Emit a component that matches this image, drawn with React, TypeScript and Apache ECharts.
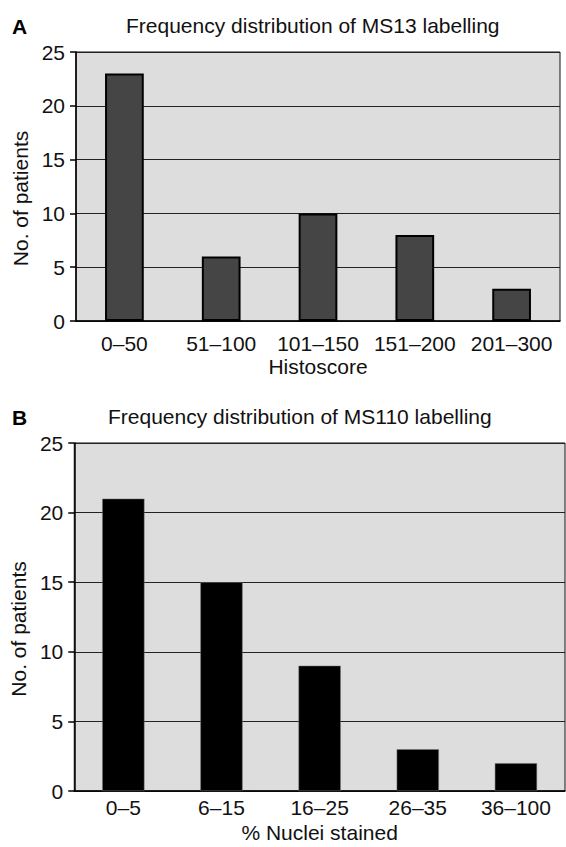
import React, { useEffect, useRef } from "react";
import * as echarts from "echarts";

const categoriesA = ["0–50", "51–100", "101–150", "151–200", "201–300"];
const valuesA = [23, 6, 10, 8, 3];
const categoriesB = ["0–5", "6–15", "16–25", "26–35", "36–100"];
const valuesB = [21, 15, 9, 3, 2];
const yTicks = { min: 0, max: 25, interval: 5 };

const titleA = "Frequency distribution of MS13 labelling";
const titleB = "Frequency distribution of MS110 labelling";
const xNameA = "Histoscore";
const xNameB = "% Nuclei stained";
const yName = "No. of patients";

const FONT = "'Liberation Sans', Arial, Helvetica, sans-serif";
const TXT = "#111";
const FS = 21;

export default function App() {
  const ref = useRef<HTMLDivElement>(null);
  useEffect(() => {
    document.body.style.margin = "0";
    const chart = echarts.init(ref.current!, null, { renderer: "svg" });
    const yAxisBase = (gridIndex: number, gap: number) => ({
      type: "value",
      gridIndex,
      min: yTicks.min,
      max: yTicks.max,
      interval: yTicks.interval,
      name: yName,
      nameLocation: "middle",
      nameGap: gap,
      nameTextStyle: { fontSize: FS, color: TXT, fontFamily: FONT, padding: [0, 24, 0, 0] },
      axisLine: { show: true, lineStyle: { color: "#000", width: 1.5 } },
      axisTick: { show: true, length: 6, lineStyle: { color: "#000", width: 1.5 } },
      axisLabel: { fontSize: FS, color: TXT, fontFamily: FONT, margin: 11 },
      splitLine: { show: true, lineStyle: { color: "#222", width: 1 } },
    });
    const xAxisBase = (gridIndex: number, data: string[], name: string, margin: number, gap: number) => ({
      type: "category",
      gridIndex,
      data,
      name,
      nameLocation: "middle",
      nameGap: gap,
      nameTextStyle: { fontSize: FS, color: TXT, fontFamily: FONT },
      axisLine: { show: true, lineStyle: { color: "#000", width: 1.5 } },
      axisTick: { show: false },
      axisLabel: { fontSize: FS, color: TXT, fontFamily: FONT, margin, interval: 0 },
    });
    chart.setOption({
      animation: false,
      backgroundColor: "#fff",
      title: [
        { text: "A", left: 12, top: 16, padding: 0, textStyle: { fontSize: 21, fontWeight: "bold", color: "#000", fontFamily: FONT } },
        { text: titleA, left: 126, top: 15, padding: 0, textStyle: { fontSize: FS, fontWeight: "normal", color: TXT, fontFamily: FONT } },
        { text: "B", left: 12, top: 407, padding: 0, textStyle: { fontSize: 21, fontWeight: "bold", color: "#000", fontFamily: FONT } },
        { text: titleB, left: 108, top: 406, padding: 0, textStyle: { fontSize: FS, fontWeight: "normal", color: TXT, fontFamily: FONT } },
      ],
      grid: [
        { left: 76, top: 52, width: 484, height: 269, show: true, backgroundColor: "#dddddd", borderColor: "#111", borderWidth: 1, containLabel: false },
        { left: 74, top: 443, width: 491, height: 348, show: true, backgroundColor: "#dddddd", borderColor: "#111", borderWidth: 1, containLabel: false },
      ],
      xAxis: [
        xAxisBase(0, categoriesA, xNameA, 12, 35),
        xAxisBase(1, categoriesB, xNameB, 6, 31),
      ],
      yAxis: [yAxisBase(0, 45), yAxisBase(1, 43)],
      series: [
        {
          type: "bar",
          xAxisIndex: 0,
          yAxisIndex: 0,
          data: valuesA,
          barWidth: "40%",
          itemStyle: { color: "#454545", borderColor: "#000", borderWidth: 2 },
        },
        {
          type: "bar",
          xAxisIndex: 1,
          yAxisIndex: 1,
          data: valuesB,
          barWidth: "43%",
          itemStyle: { color: "#000", borderColor: "#777", borderWidth: 0.5 },
        },
      ],
    });
    return () => chart.dispose();
  }, []);
  return <div ref={ref} style={{ position: "absolute", left: 0, top: 0, width: 566, height: 847 }} />;
}
